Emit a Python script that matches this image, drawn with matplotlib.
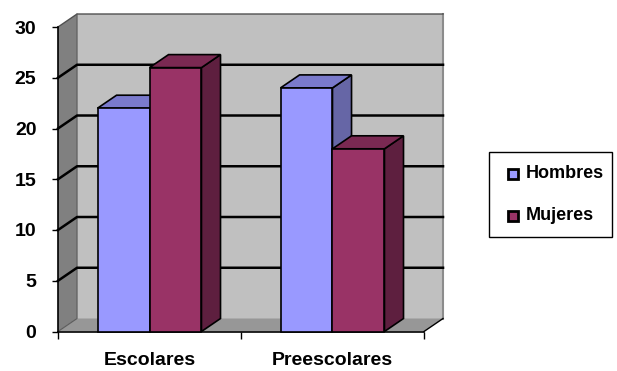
import matplotlib.pyplot as plt
from matplotlib.patches import Polygon, Rectangle

categories = ['Escolares', 'Preescolares']
series = ['Hombres', 'Mujeres']
hombres = [22, 24]
mujeres = [26, 18]
y_ticks = [0, 5, 10, 15, 20, 25, 30]

# front / top / side shades for each series
shades = {
    'Hombres': ('#9999FF', '#7A7ACC', '#6666A6'),
    'Mujeres': ('#993366', '#7A2952', '#5E1F3F'),
}

plt.rcParams['font.family'] = ['Liberation Sans', 'DejaVu Sans']
plt.rcParams['font.weight'] = 'bold'

fig = plt.figure(figsize=(6.17, 3.71), dpi=100)
ax = fig.add_axes([58 / 617, 39.5 / 371, 366 / 617, 304.5 / 371])
ax.set_xlim(0, len(categories))
ax.set_ylim(0, 30)
ax.patch.set_visible(False)

# depth offset of the 3-D box, in data units
dx, dy = 0.104, 1.28
top = y_ticks[-1]
xr = len(categories)

def poly(pts, fc, ec='none', lw=0, z=1):
    ax.add_patch(Polygon(pts, closed=True, facecolor=fc, edgecolor=ec,
                         linewidth=lw, clip_on=False, zorder=z))

# walls and floor
poly([(dx, dy), (xr + dx, dy), (xr + dx, top + dy), (dx, top + dy)], '#C0C0C0')
poly([(0, 0), (dx, dy), (dx, top + dy), (0, top)], '#808080')
poly([(0, 0), (xr, 0), (xr + dx, dy), (dx, dy)], '#979797')
ax.plot([xr + dx, xr + dx], [dy, top + dy], color='#8C8C8C', lw=1.5,
        clip_on=False, zorder=1.5)
ax.plot([0, dx, xr + dx], [top, top + dy, top + dy], color='#505050', lw=1,
        clip_on=False, zorder=1.5)
ax.plot([xr, xr + dx], [0, dy], color='black', lw=1, clip_on=False, zorder=1.5)
ax.plot([0, dx, dx], [0, dy, top + dy], color='#5A5A5A', lw=0.8,
        clip_on=False, zorder=1.5)

# gridlines run across the side wall and the back wall
for v in y_ticks[1:-1]:
    ax.plot([0, dx, xr + dx], [v, v + dy, v + dy], color='black', lw=1.8,
            clip_on=False, zorder=1.6)

# 3-D bars
width = 0.284
for i, cat in enumerate(categories):
    center = i + 0.5
    for j, (name, vals) in enumerate([('Hombres', hombres), ('Mujeres', mujeres)]):
        front, topc, side = shades[name]
        x0 = center - width + j * width
        h = vals[i]
        z = 3 + j
        poly([(x0 + width, 0), (x0 + width + dx, dy), (x0 + width + dx, h + dy),
              (x0 + width, h)], side, 'black', 1.2, z)
        poly([(x0, h), (x0 + width, h), (x0 + width + dx, h + dy), (x0 + dx, h + dy)],
             topc, 'black', 1.2, z)
        poly([(x0, 0), (x0 + width, 0), (x0 + width, h), (x0, h)],
             front, 'black', 1.2, z)

# axes
for s in ['top', 'right']:
    ax.spines[s].set_visible(False)
for s in ['left', 'bottom']:
    ax.spines[s].set_color('black')
    ax.spines[s].set_linewidth(1.2)
    ax.spines[s].set_zorder(2)
ax.set_yticks(y_ticks)
ax.tick_params(axis='y', direction='out', length=4.5, width=1, pad=11,
               labelsize=14)
ax.set_xticks(range(len(categories) + 1))
ax.set_xticklabels([])
ax.set_xticks([i + 0.5 for i in range(len(categories))], minor=True)
ax.set_xticklabels(categories, minor=True)
ax.tick_params(axis='x', which='major', direction='out', length=5, width=1)
ax.tick_params(axis='x', which='minor', length=0, pad=14.5, labelsize=14)
for lab in ax.get_yticklabels() + ax.get_xticklabels(minor=True):
    lab.set_fontweight('bold')

# legend box
W, H = 617, 371
fig.patches.append(Rectangle((489 / W, 1 - 237 / H), 123 / W, 85 / H,
                             transform=fig.transFigure, facecolor='white',
                             edgecolor='black', linewidth=1))
for k, (name, ypix) in enumerate([('Hombres', 173.5), ('Mujeres', 215.5)]):
    fig.patches.append(Rectangle((507.5 / W, 1 - (ypix + 5) / H), 10 / W, 10 / H,
                                 transform=fig.transFigure,
                                 facecolor=shades[name][0], edgecolor='black',
                                 linewidth=2))
    fig.text(526 / W, 1 - ypix / H, name, fontsize=13, fontweight='bold',
             va='center', ha='left')

fig.savefig('out.png', dpi=100)
